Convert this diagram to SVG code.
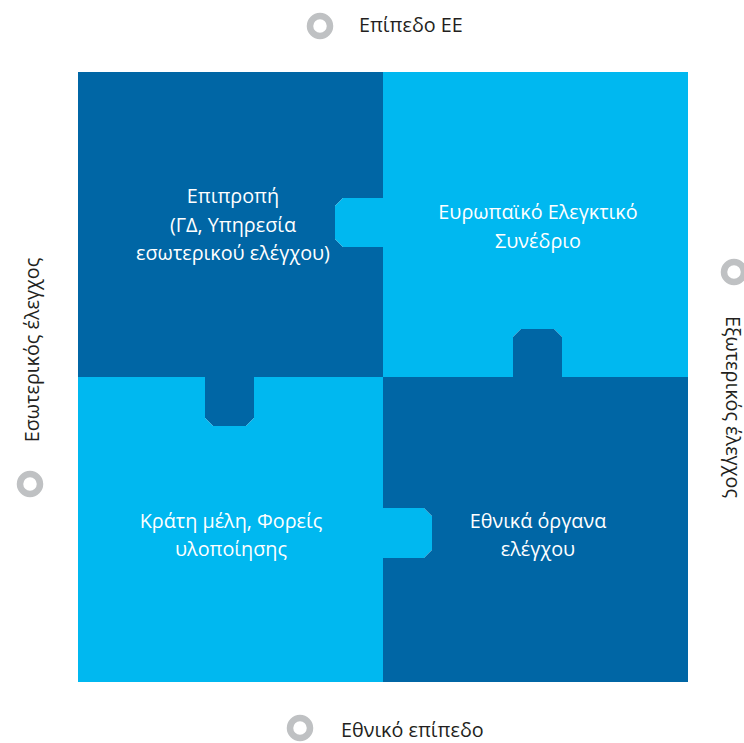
<svg xmlns="http://www.w3.org/2000/svg" width="744" height="743" viewBox="0 0 744 743">
<style>
.dark{fill:#0066A5}
.light{fill:#00B8F0}
.nt{font-family:"Open Sans","Noto Sans",sans-serif;font-size:19.8px;fill:#FFFFFF;text-anchor:middle}
.lb{font-family:"Open Sans","Noto Sans",sans-serif;font-size:19.8px;fill:#231F20}
.ring{fill:none;stroke:#BFC1C3;stroke-width:6.5}
</style>
<rect width="744" height="743" fill="#FFFFFF"/>
<g id="node-commission">
<path class="dark" d="M78,72 H383 V198 H343 L335,206 V239 L343,247 H383 V377 H254 V418 L246,426 H213 L205,418 V377 H78 Z"/>
<text class="nt" x="233" y="203">Επιπροπή</text>
<text class="nt" x="233" y="231.5">(ΓΔ, Υπηρεσία</text>
<text class="nt" x="233" y="260">εσωτερικού ελέγχου)</text>
</g>
<g id="node-eca">
<path class="light" d="M383,72 H688 V377 H562 V337 L554,329 H521 L513,337 V377 H383 V247 H343 L335,239 V206 L343,198 H383 Z"/>
<text class="nt" x="538" y="219">Ευρωπαϊκό Ελεγκτικό</text>
<text class="nt" x="538" y="247.5">Συνέδριο</text>
</g>
<g id="node-member-states">
<path class="light" d="M78,377 H205 V418 L213,426 H246 L254,418 V377 H383 V508 H424 L432,516 V550 L424,558 H383 V682 H78 Z"/>
<text class="nt" x="231" y="528">Κράτη μέλη, Φορείς</text>
<text class="nt" x="231" y="556">υλοποίησης</text>
</g>
<g id="node-national-audit">
<path class="dark" d="M383,377 H513 V337 L521,329 H554 L562,337 V377 H688 V682 H383 V558 H424 L432,550 V516 L424,508 H383 Z"/>
<text class="nt" x="538" y="528">Εθνικά όργανα</text>
<text class="nt" x="538" y="556">ελέγχου</text>
</g>
<g id="label-eu-level">
<circle class="ring" cx="320" cy="26" r="10"/>
<text class="lb" x="359" y="32">Επίπεδο ΕΕ</text>
</g>
<g id="label-national-level">
<circle class="ring" cx="300" cy="728" r="10"/>
<text class="lb" x="341" y="737">Εθνικό επίπεδο</text>
</g>
<g id="label-internal">
<circle class="ring" cx="30" cy="484" r="10"/>
<text class="lb" transform="translate(39,350) rotate(-90)" text-anchor="middle">Εσωτερικός έλεγχος</text>
</g>
<g id="label-external">
<circle class="ring" cx="734" cy="272" r="10"/>
<text class="lb" transform="translate(726,407) rotate(90)" text-anchor="middle">Εξωτερικός έλεγχος</text>
</g>
<g id="connectors"></g>
</svg>
